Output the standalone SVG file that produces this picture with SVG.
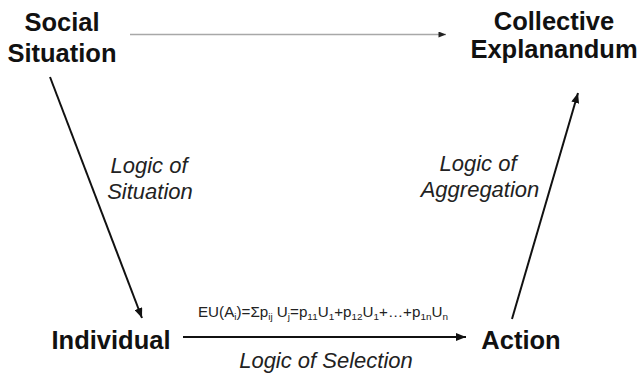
<svg xmlns="http://www.w3.org/2000/svg" width="644" height="378" viewBox="0 0 644 378">
  <style>
    .node { font-family: "Liberation Sans", Arial, sans-serif; font-weight: bold; font-size: 25.5px; fill: #111; text-anchor: middle; }
    .logic { font-family: "Liberation Sans", Arial, sans-serif; font-style: italic; font-size: 22px; fill: #222; text-anchor: middle; }
    .formula { font-family: "Liberation Sans", Arial, sans-serif; font-size: 14.5px; fill: #222; }
    .sub { font-size: 9.5px; }
    .edge { stroke: #111; stroke-width: 2; fill: none; }
    .macro { stroke: #a8a8a8; stroke-width: 1.3; fill: none; }
  </style>
  <defs>
    <marker id="head" viewBox="0 0 10 8" refX="10" refY="4" markerWidth="10" markerHeight="8" markerUnits="userSpaceOnUse" orient="auto">
      <path d="M0,0 L10,4 L0,8 z" fill="#111"/>
    </marker>
    <marker id="headSmall" viewBox="0 0 10 8" refX="10" refY="4" markerWidth="8" markerHeight="6" markerUnits="userSpaceOnUse" orient="auto">
      <path d="M0,0 L10,4 L0,8 z" fill="#222"/>
    </marker>
  </defs>

  <rect width="644" height="378" fill="#fff"/>

  <g id="connectors">
    <line class="macro" x1="130" y1="34.5" x2="446" y2="34.5" marker-end="url(#headSmall)"/>
    <line class="edge" x1="50" y1="77" x2="142" y2="318" marker-end="url(#head)"/>
    <line class="edge" x1="183" y1="337" x2="466" y2="337" marker-end="url(#head)"/>
    <line class="edge" x1="512" y1="319" x2="578" y2="93" marker-end="url(#head)"/>
  </g>

  <g id="social-situation">
    <text class="node" x="62" y="31">Social</text>
    <text class="node" x="62" y="62">Situation</text>
  </g>

  <g id="collective-explanandum">
    <text class="node" x="554" y="30">Collective</text>
    <text class="node" x="554" y="58">Explanandum</text>
  </g>

  <g id="individual">
    <text class="node" x="111" y="349">Individual</text>
  </g>

  <g id="action">
    <text class="node" x="521" y="349">Action</text>
  </g>

  <g id="labels">
    <text class="logic" x="149" y="173">Logic of</text>
    <text class="logic" x="150" y="199">Situation</text>
    <text class="logic" x="478" y="171">Logic of</text>
    <text class="logic" x="480" y="197">Aggregation</text>
    <text class="logic" x="326" y="368">Logic of Selection</text>
    <text class="formula" x="198" y="317" textLength="250" lengthAdjust="spacingAndGlyphs">EU(A<tspan class="sub" dy="3">i</tspan><tspan dy="-3">)=Σp</tspan><tspan class="sub" dy="3">ij</tspan><tspan dy="-3"> U</tspan><tspan class="sub" dy="3">j</tspan><tspan dy="-3">=p</tspan><tspan class="sub" dy="3">11</tspan><tspan dy="-3">U</tspan><tspan class="sub" dy="3">1</tspan><tspan dy="-3">+p</tspan><tspan class="sub" dy="3">12</tspan><tspan dy="-3">U</tspan><tspan class="sub" dy="3">1</tspan><tspan dy="-3">+…+p</tspan><tspan class="sub" dy="3">1n</tspan><tspan dy="-3">U</tspan><tspan class="sub" dy="3">n</tspan></text>
  </g>
</svg>
